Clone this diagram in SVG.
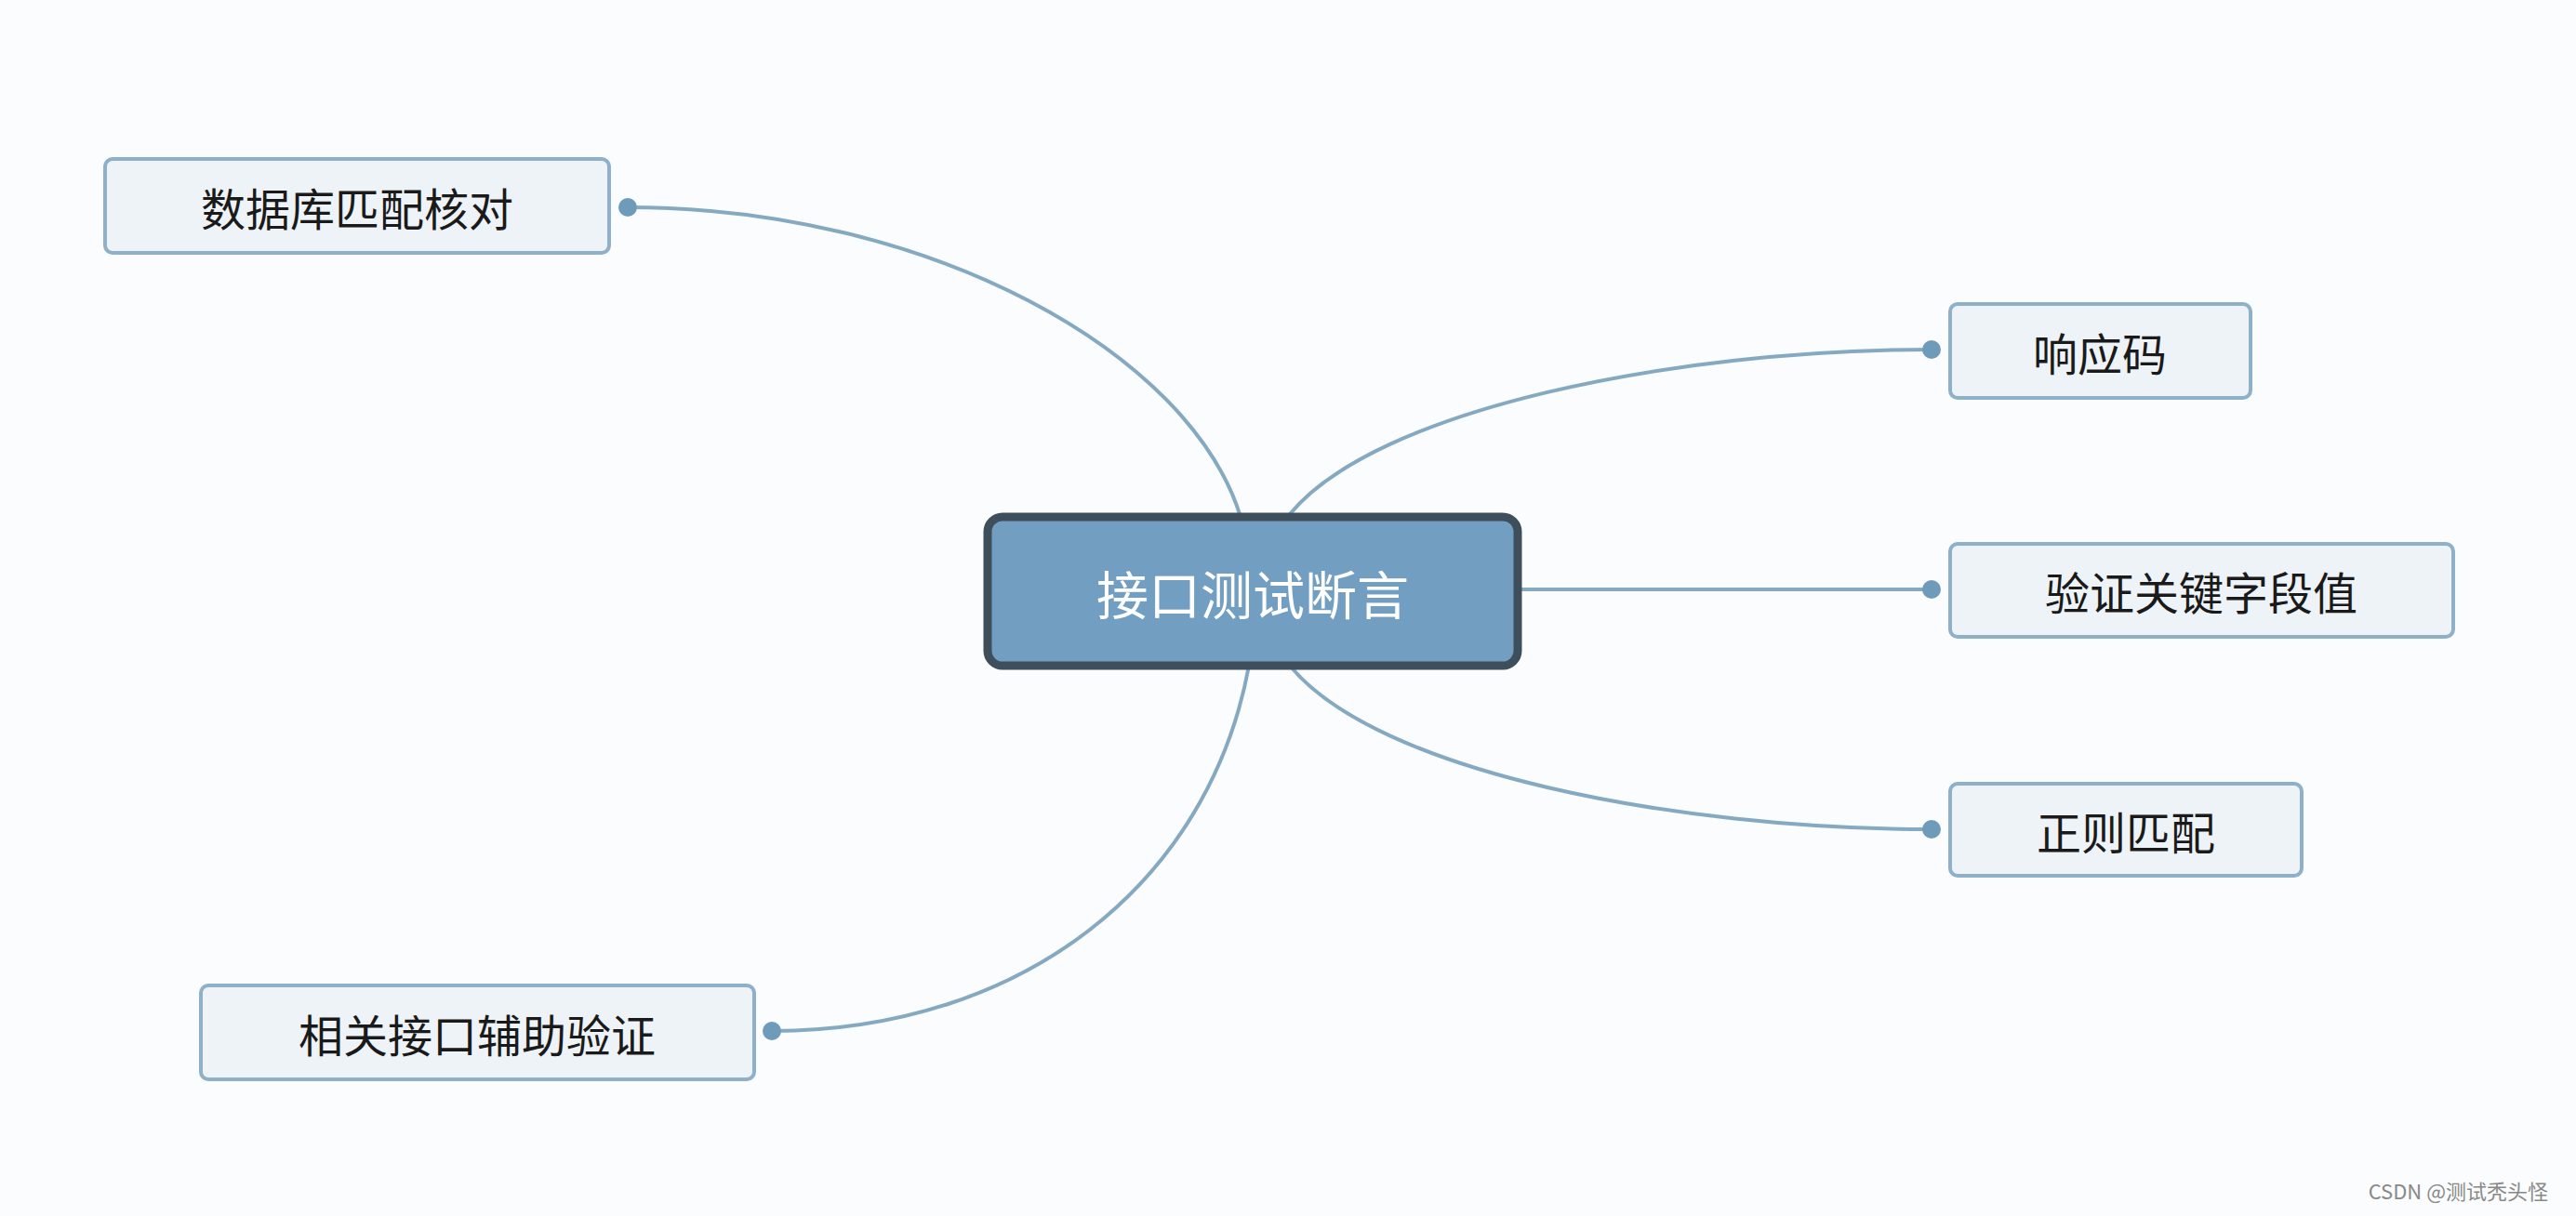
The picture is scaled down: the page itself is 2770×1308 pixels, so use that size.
<svg xmlns="http://www.w3.org/2000/svg" width="2770" height="1308" viewBox="0 0 2770 1308">
<style>
.n rect{fill:#eef3f7;stroke:#8eb0c8;stroke-width:4}
.n text{font-family:"Noto Sans CJK SC","Liberation Sans",sans-serif;font-size:48px;fill:#1a1a1a;text-anchor:middle;dominant-baseline:central}
.c path{fill:none;stroke:#86a9c2;stroke-width:4}
.c circle{fill:#6f9bbb}
</style>
<rect width="2770" height="1308" fill="#fbfcfd"/>
<g class="c" id="connectors">
<path d="M1334,556 C1280,380 1000,223 675,223"/>
<path d="M1387,553 C1480,440 1800,376 2077,376"/>
<path d="M1632,634 L2077,634"/>
<path d="M1387,716 C1480,830 1800,892 2077,892"/>
<path d="M1343,716 C1300,950 1100,1109 830,1109"/>
<circle cx="675" cy="223" r="10"/>
<circle cx="2077" cy="376" r="10"/>
<circle cx="2077" cy="634" r="10"/>
<circle cx="2077" cy="892" r="10"/>
<circle cx="830" cy="1109" r="10"/>
</g>
<g id="center">
<rect x="1062" y="556" width="570" height="160" rx="16" fill="#729fc1" stroke="#3e4e5b" stroke-width="9"/>
<text x="1347" y="636" font-family="Noto Sans CJK SC,Liberation Sans,sans-serif" font-size="56" fill="#ffffff" text-anchor="middle" dominant-baseline="central">接口测试断言</text>
</g>
<g class="n" id="n1"><rect x="113" y="171" width="542" height="101" rx="8"/><text x="384" y="222">数据库匹配核对</text></g>
<g class="n" id="n2"><rect x="2097" y="327" width="323" height="101" rx="8"/><text x="2258" y="378">响应码</text></g>
<g class="n" id="n3"><rect x="2097" y="585" width="541" height="100" rx="8"/><text x="2367" y="635">验证关键字段值</text></g>
<g class="n" id="n4"><rect x="2097" y="843" width="378" height="99" rx="8"/><text x="2286" y="893">正则匹配</text></g>
<g class="n" id="n5"><rect x="216" y="1060" width="595" height="101" rx="8"/><text x="513" y="1111">相关接口辅助验证</text></g>
<text x="2740" y="1290" font-family="Noto Sans CJK SC,Liberation Sans,sans-serif" font-size="22" fill="#888" text-anchor="end">CSDN @测试秃头怪</text>
</svg>
